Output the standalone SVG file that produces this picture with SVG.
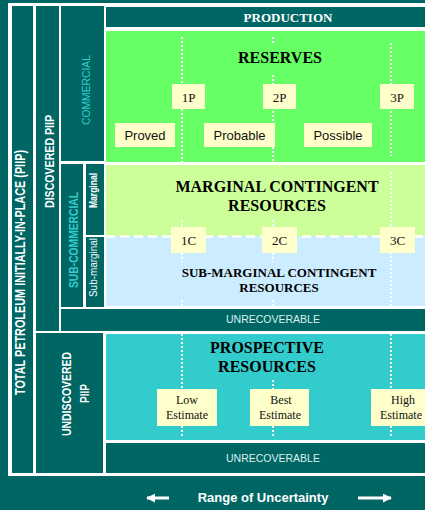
<svg xmlns="http://www.w3.org/2000/svg" width="425" height="510" viewBox="0 0 425 510">
  <style>
    .dark { fill: #006663; }
    .res { fill: #66ff66; }
    .marg { fill: #ccff99; }
    .sub { fill: #ccecff; }
    .pros { fill: #33cccc; }
    .lab { fill: #ffffcc; }
    .ttl { font-family: "Liberation Serif", "Times New Roman", serif; font-weight: bold; fill: #000; text-anchor: middle; }
    .ser { font-family: "Liberation Serif", "Times New Roman", serif; fill: #111; text-anchor: middle; }
    .san { font-family: "Liberation Sans", Arial, sans-serif; fill: #111; text-anchor: middle; }
    .col { font-family: "Liberation Sans", Arial, sans-serif; text-anchor: middle; }
    .unrec { font-family: "Liberation Sans", Arial, sans-serif; font-size: 10.5px; fill: #dff0ee; text-anchor: middle; }
    .dot { stroke: #fff; stroke-width: 2; stroke-dasharray: 2 2; fill: none; }
  </style>
  <defs>
    <marker id="head" viewBox="0 0 10 10" refX="9" refY="5" markerWidth="3" markerHeight="3" orient="auto">
      <path d="M0,0 L10,5 L0,10 z" fill="#fff"/>
    </marker>
  </defs>

  <!-- page and white frame -->
  <rect x="0" y="0" width="425" height="510" class="dark"/>
  <rect x="8" y="3" width="420" height="473" fill="#fff"/>

  <!-- left-hand classification columns -->
  <g id="total-piip">
    <rect x="12" y="6" width="21" height="467" class="dark"/>
    <text class="col" transform="translate(25,272.5) rotate(-90)" font-size="14" font-weight="bold" fill="#fff" textLength="245" lengthAdjust="spacingAndGlyphs">TOTAL PETROLEUM INITIALLY-IN-PLACE (PIIP)</text>
  </g>
  <g id="discovered-piip">
    <rect x="36" y="6" width="23" height="325" class="dark"/>
    <text class="col" transform="translate(54,161.5) rotate(-90)" font-size="12.5" font-weight="bold" fill="#fff" textLength="93" lengthAdjust="spacingAndGlyphs">DISCOVERED PIIP</text>
  </g>
  <g id="commercial">
    <rect x="61" y="6" width="43" height="155" class="dark"/>
    <text class="col" transform="translate(90,90) rotate(-90)" font-size="11" fill="#33cccc" textLength="70" lengthAdjust="spacingAndGlyphs">COMMERCIAL</text>
  </g>
  <g id="sub-commercial">
    <rect x="61" y="164" width="22" height="143" class="dark"/>
    <text class="col" transform="translate(78,240) rotate(-90)" font-size="12.5" font-weight="bold" fill="#33cccc" textLength="96" lengthAdjust="spacingAndGlyphs">SUB-COMMERCIAL</text>
  </g>
  <g id="marginal">
    <rect x="86" y="164" width="18" height="71" class="dark"/>
    <text class="col" transform="translate(97,190.5) rotate(-90)" font-size="10" font-weight="bold" fill="#fff" textLength="35" lengthAdjust="spacingAndGlyphs">Marginal</text>
  </g>
  <g id="sub-marginal">
    <rect x="86" y="237" width="18" height="70" class="dark"/>
    <text class="col" transform="translate(97,267.5) rotate(-90)" font-size="10" fill="#fff" textLength="59" lengthAdjust="spacingAndGlyphs">Sub-marginal</text>
  </g>
  <g id="undiscovered-piip">
    <rect x="36" y="333" width="67" height="140" class="dark"/>
    <text class="col" transform="translate(71,394) rotate(-90)" font-size="12.5" font-weight="bold" fill="#fff" textLength="84" lengthAdjust="spacingAndGlyphs">UNDISCOVERED</text>
    <text class="col" transform="translate(89,393.5) rotate(-90)" font-size="12.5" font-weight="bold" fill="#fff" textLength="19" lengthAdjust="spacingAndGlyphs">PIIP</text>
  </g>

  <!-- resource classes -->
  <g id="production">
    <rect x="106" y="7" width="322" height="20" class="dark"/>
    <text x="288" y="21.5" class="ttl" font-size="13" fill="#fff" style="fill:#fff">PRODUCTION</text>
  </g>
  <g id="reserves">
    <rect x="106" y="31" width="322" height="131" class="res"/>
    <text x="280" y="63" class="ttl" font-size="16">RESERVES</text>
  </g>
  <g id="marginal-contingent">
    <rect x="106" y="165" width="322" height="71" class="marg"/>
    <text x="277" y="192" class="ttl" font-size="16">MARGINAL CONTINGENT</text>
    <text x="277" y="211" class="ttl" font-size="16">RESOURCES</text>
  </g>
  <g id="sub-marginal-contingent">
    <rect x="106" y="236" width="322" height="70" class="sub"/>
    <line x1="106" y1="236.5" x2="425" y2="236.5" stroke="#fff" stroke-width="2.5" stroke-dasharray="9 5"/>
    <text x="279" y="277" class="ttl" font-size="13">SUB-MARGINAL CONTINGENT</text>
    <text x="279" y="292" class="ttl" font-size="13">RESOURCES</text>
  </g>
  <g id="unrecoverable-discovered">
    <rect x="61" y="309" width="367" height="22" class="dark"/>
    <text x="273" y="322.5" class="unrec">UNRECOVERABLE</text>
  </g>
  <g id="prospective">
    <rect x="106" y="334" width="322" height="106" class="pros"/>
    <text x="267" y="353" class="ttl" font-size="16">PROSPECTIVE</text>
    <text x="267" y="372" class="ttl" font-size="16">RESOURCES</text>
  </g>
  <g id="unrecoverable-undiscovered">
    <rect x="106" y="443" width="322" height="30" class="dark"/>
    <text x="273" y="462" class="unrec">UNRECOVERABLE</text>
  </g>

  <!-- uncertainty markers and range arrows -->
  <g id="connectors">
    <path class="dot" d="M182,37 V165 M182,220 V228 M182,253 V262 M182,300 V306 M182,334 V389 M182,426 V437"/>
    <path class="dot" d="M273,37 V44 M273,75 V165 M273,220 V228 M273,253 V262 M273,300 V306 M273,380 V389 M273,426 V437"/>
    <path class="dot" d="M391,43 V156 M391,172 V306 M391,334 V389 M391,426 V437"/>
    <line x1="169" y1="498" x2="147" y2="498" stroke="#fff" stroke-width="3" marker-end="url(#head)"/>
    <line x1="358" y1="498" x2="391" y2="498" stroke="#fff" stroke-width="3" marker-end="url(#head)"/>
  </g>

  <!-- estimate labels -->
  <g id="label-1p"><rect x="172" y="84" width="33" height="25" class="lab"/><text x="188.5" y="102" class="ser" font-size="13">1P</text></g>
  <g id="label-2p"><rect x="263" y="84" width="33" height="25" class="lab"/><text x="279.5" y="102" class="ser" font-size="13">2P</text></g>
  <g id="label-3p"><rect x="380" y="84" width="34" height="25" class="lab"/><text x="397" y="102" class="ser" font-size="13">3P</text></g>
  <g id="label-proved"><rect x="115" y="123" width="60" height="24" class="lab"/><text x="145" y="140" class="san" font-size="13">Proved</text></g>
  <g id="label-probable"><rect x="204" y="123" width="71" height="24" class="lab"/><text x="239.5" y="140" class="san" font-size="13">Probable</text></g>
  <g id="label-possible"><rect x="304" y="123" width="68" height="24" class="lab"/><text x="338" y="140" class="san" font-size="13">Possible</text></g>
  <g id="label-1c"><rect x="171" y="227" width="35" height="26" class="lab"/><text x="188.5" y="245" class="ser" font-size="13">1C</text></g>
  <g id="label-2c"><rect x="262" y="227" width="35" height="26" class="lab"/><text x="279.5" y="245" class="ser" font-size="13">2C</text></g>
  <g id="label-3c"><rect x="380" y="227" width="35" height="26" class="lab"/><text x="397.5" y="245" class="ser" font-size="13">3C</text></g>
  <g id="label-low"><rect x="157" y="389" width="60" height="37" class="lab"/><text x="187" y="404" class="ser" font-size="12">Low</text><text x="187" y="419" class="ser" font-size="12">Estimate</text></g>
  <g id="label-best"><rect x="250" y="389" width="59" height="37" class="lab"/><text x="281" y="404" class="ser" font-size="12">Best</text><text x="280" y="419" class="ser" font-size="12">Estimate</text></g>
  <g id="label-high"><rect x="371" y="389" width="60" height="37" class="lab"/><text x="403" y="404" class="ser" font-size="12">High</text><text x="401" y="419" class="ser" font-size="12">Estimate</text></g>

  <g id="range-caption">
    <text x="263" y="502" font-family="Liberation Sans, Arial, sans-serif" font-weight="bold" font-size="13" fill="#fff" text-anchor="middle">Range of Uncertainty</text>
  </g>
</svg>
